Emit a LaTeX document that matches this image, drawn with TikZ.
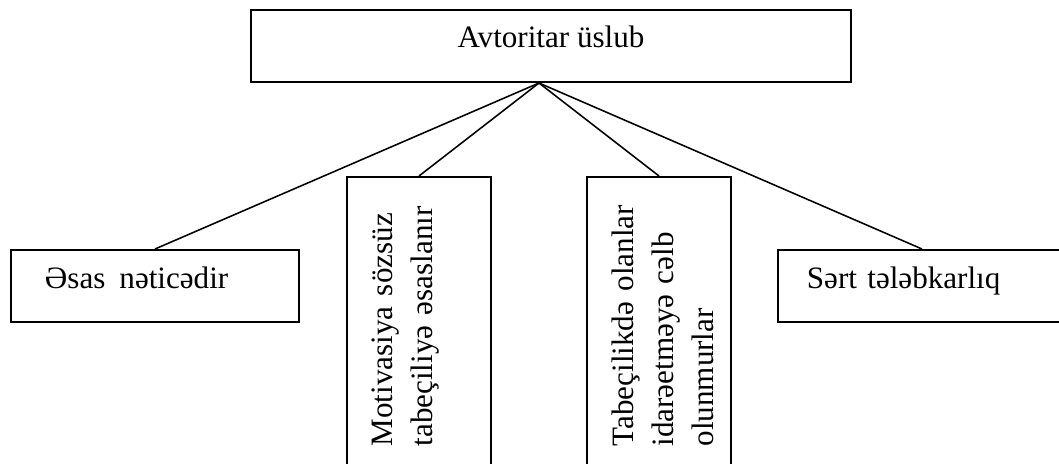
\documentclass[tikz,border=0pt]{standalone}
\usepackage{fontspec}
\setmainfont{Liberation Serif}
\usepackage{tikz}
\usetikzlibrary{calc,positioning}

\tikzset{
	box/.style={draw,line width=0.9pt,rectangle,minimum height=32.4pt,font=\fontsize{14}{18}\selectfont},
	sidebox/.style={box,minimum width=129.6pt,align=left,text height=6pt,text depth=4.2pt},
	upbox/.style={box,minimum width=64.8pt,minimum height=135pt,inner xsep=3pt,text width=58.8pt,align=left},
	link/.style={line width=0.7pt}
}
\newcommand{\uptext}[1]{\hspace*{8.25pt}\raisebox{2.5pt}[\height][\depth]{\rotatebox{90}{\parbox{112.5pt}{#1}}}}

\begin{document}
\begin{tikzpicture}[x=0.45pt,y=-0.45pt]
								 %\draw[color=gray,step=10,help lines,opacity=0.3] (0,0) grid (1059,464); %help grids
								 \useasboundingbox (0,0) rectangle (1059,464);
								 \node[box,minimum width=270pt,text height=6pt,text depth=5.1pt] (avt) at (551,46) {Avtoritar üslub};
								 \coordinate (apex) at ($(avt.south)+(-12,0)$);
								 \node[sidebox,inner xsep=15.3pt,text width=99pt] (esas) at (155,286) {Əsas\hspace{0.45em}nəticədir};
								 \node[upbox] (motiv) at (419,327) {\uptext{Motivasiya sözsüz\\tabeçiliyə əsaslanır}};
								 \node[upbox] (tabe) at (659,327) {\uptext{Tabeçilikdə olanlar\\idarəetməyə cəlb\\olunmurlar}};
								 \node[sidebox,inner xsep=13pt,text width=103.6pt] (sert) at (922,286) {Sərt tələbkarlıq};
								 \draw[link] (apex)--(esas.north);
								 \draw[link] (apex)--(motiv.north);
								 \draw[link] (apex)--(tabe.north);
								 \draw[link] (apex)--(sert.north);
				\end{tikzpicture}
\end{document}
